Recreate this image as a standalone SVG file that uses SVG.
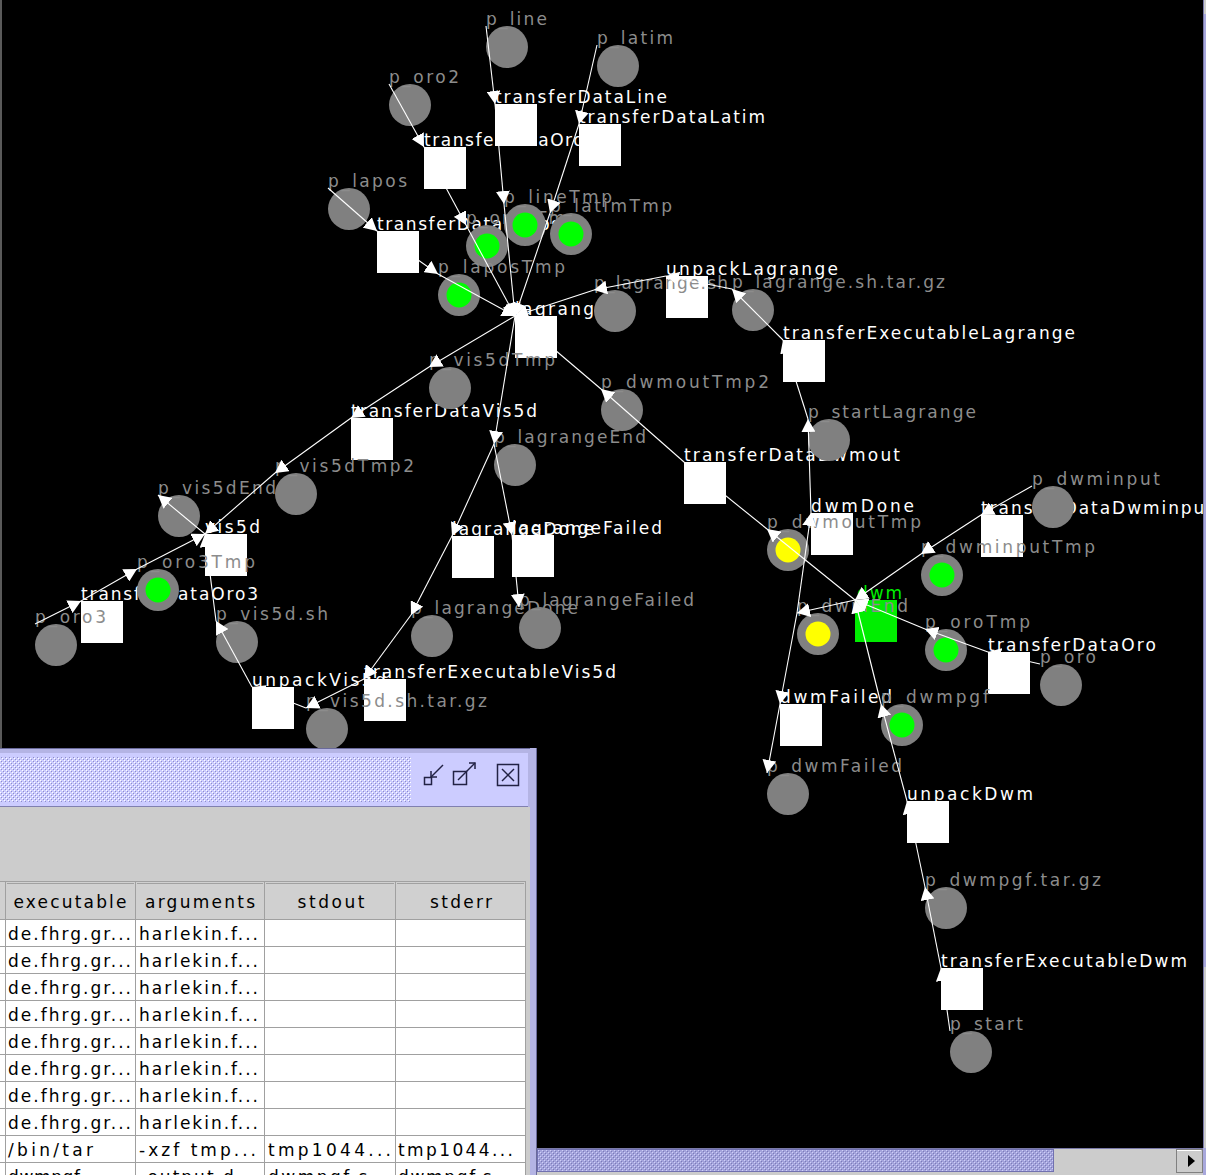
<svg xmlns="http://www.w3.org/2000/svg" width="1206" height="1175" viewBox="0 0 1206 1175">
<style>
  .pl circle.ring{fill:#808080}
  .tok-g{fill:#00ff00}
  .tok-y{fill:#ffff00}
  .pl text{font-family:"DejaVu Sans","Liberation Sans",sans-serif;font-size:17px;fill:#8c8c8c}
  .tr rect{fill:#ffffff}
  .tr text{font-family:"DejaVu Sans","Liberation Sans",sans-serif;font-size:17px;fill:#ffffff}
  .tr.active rect{fill:#00ee00}
  .tr.active text{fill:#00ee00}
  #connectors line{stroke:#ffffff;stroke-width:1.1;marker-end:url(#ah)}
  .cell{font-family:"DejaVu Sans","Liberation Sans",sans-serif;font-size:17px;fill:#000}
  .grid line{stroke:#a0a0a0;stroke-width:1}
  .icon{fill:none;stroke:#222244;stroke-width:1.5}
</style>
<defs>
  <marker id="ah" markerUnits="userSpaceOnUse" markerWidth="14" markerHeight="14" refX="13" refY="7" orient="auto">
    <path d="M0,0 L13,7 L0,14 z" fill="#ffffff"/>
  </marker>
  <pattern id="bumps" width="4" height="4" patternUnits="userSpaceOnUse">
    <rect width="4" height="4" fill="#ccccff"/>
    <rect x="0" y="0" width="1" height="1" fill="#ffffff"/>
    <rect x="1" y="1" width="1" height="1" fill="#8f8fc8"/>
    <rect x="2" y="2" width="1" height="1" fill="#ffffff"/>
    <rect x="3" y="3" width="1" height="1" fill="#8f8fc8"/>
  </pattern>
  <pattern id="thumbBumps" width="4" height="4" patternUnits="userSpaceOnUse">
    <rect width="4" height="4" fill="#a4a4dc"/>
    <rect x="0" y="0" width="1" height="1" fill="#d0d0f8"/>
    <rect x="1" y="1" width="1" height="1" fill="#7c7cb8"/>
    <rect x="2" y="2" width="1" height="1" fill="#d0d0f8"/>
    <rect x="3" y="3" width="1" height="1" fill="#7c7cb8"/>
  </pattern>
</defs>

<!-- drawing canvas -->
<rect x="0" y="0" width="1206" height="1175" fill="#000000"/>
<rect x="0" y="0" width="2" height="1148" fill="#5a5a5a"/>

<!-- transitions -->
<g id="transferDataOro2" class="tr"><text x="424" y="146" textLength="172">transferDataOro2</text><rect x="424" y="147" width="42" height="42"/></g>
<g id="transferDataLine" class="tr"><text x="495" y="103" textLength="172">transferDataLine</text><rect x="495" y="104" width="42" height="42"/></g>
<g id="transferDataLatim" class="tr"><text x="579" y="123" textLength="186">transferDataLatim</text><rect x="579" y="124" width="42" height="42"/></g>
<g id="transferDataLapos" class="tr"><text x="377" y="230" textLength="183">transferDataLapos</text><rect x="377" y="231" width="42" height="42"/></g>
<g id="lagrange" class="tr"><text x="515" y="315" textLength="92">lagrange</text><rect x="515" y="316" width="42" height="42"/></g>
<g id="unpackLagrange" class="tr"><text x="666" y="275" textLength="172">unpackLagrange</text><rect x="666" y="276" width="42" height="42"/></g>
<g id="transferExecutableLagrange" class="tr"><text x="783" y="339" textLength="292">transferExecutableLagrange</text><rect x="783" y="340" width="42" height="42"/></g>
<g id="transferDataVis5d" class="tr"><text x="351" y="417" textLength="186">transferDataVis5d</text><rect x="351" y="418" width="42" height="42"/></g>
<g id="transferDataDwmout" class="tr"><text x="684" y="461" textLength="216">transferDataDwmout</text><rect x="684" y="462" width="42" height="42"/></g>
<g id="vis5d" class="tr"><text x="205" y="533" textLength="55">vis5d</text><rect x="205" y="534" width="42" height="42"/></g>
<g id="transferDataOro3" class="tr"><text x="81" y="600" textLength="177">transferDataOro3</text><rect x="81" y="601" width="42" height="42"/></g>
<g id="unpackVis5d" class="tr"><text x="252" y="686" textLength="134">unpackVis5d</text><rect x="252" y="687" width="42" height="42"/></g>
<g id="transferExecutableVis5d" class="tr"><text x="364" y="678" textLength="252">transferExecutableVis5d</text><rect x="364" y="679" width="42" height="42"/></g>
<g id="lagrangeDone" class="tr"><text x="452" y="535" textLength="142">lagrangeDone</text><rect x="452" y="536" width="42" height="42"/></g>
<g id="lagrangeFailed" class="tr"><text x="512" y="534" textLength="150">lagrangeFailed</text><rect x="512" y="535" width="42" height="42"/></g>
<g id="transferDataDwminput" class="tr"><text x="981" y="514" textLength="232">transferDataDwminput</text><rect x="981" y="515" width="42" height="42"/></g>
<g id="dwmDone" class="tr"><text x="811" y="512" textLength="103">dwmDone</text><rect x="811" y="513" width="42" height="42"/></g>
<g id="dwm" class="tr active"><text x="857" y="599" textLength="45">dwm</text><rect x="855" y="600" width="42" height="42"/></g>
<g id="transferDataOro" class="tr"><text x="988" y="651" textLength="168">transferDataOro</text><rect x="988" y="652" width="42" height="42"/></g>
<g id="dwmFailed" class="tr"><text x="780" y="703" textLength="112">dwmFailed</text><rect x="780" y="704" width="42" height="42"/></g>
<g id="unpackDwm" class="tr"><text x="907" y="800" textLength="126">unpackDwm</text><rect x="907" y="801" width="42" height="42"/></g>
<g id="transferExecutableDwm" class="tr"><text x="941" y="967" textLength="246">transferExecutableDwm</text><rect x="941" y="968" width="42" height="42"/></g>

<!-- places -->
<g id="p_line" class="pl"><circle class="ring" cx="507" cy="47" r="21"/><text x="486" y="25" textLength="61">p_line</text></g>
<g id="p_latim" class="pl"><circle class="ring" cx="618" cy="66" r="21"/><text x="597" y="44" textLength="76">p_latim</text></g>
<g id="p_oro2" class="pl"><circle class="ring" cx="410" cy="105" r="21"/><text x="389" y="83" textLength="70">p_oro2</text></g>
<g id="p_lapos" class="pl"><circle class="ring" cx="349" cy="209" r="21"/><text x="328" y="187" textLength="79">p_lapos</text></g>
<g id="p_oro2Tmp" class="pl"><circle class="ring" cx="487" cy="246" r="21"/><circle class="tok-g" cx="487" cy="246" r="12.5"/><text x="466" y="224" textLength="112">p_oro2Tmp</text></g>
<g id="p_lineTmp" class="pl"><circle class="ring" cx="525" cy="225" r="21"/><circle class="tok-g" cx="525" cy="225" r="12.5"/><text x="504" y="203" textLength="108">p_lineTmp</text></g>
<g id="p_latimTmp" class="pl"><circle class="ring" cx="571" cy="234" r="21"/><circle class="tok-g" cx="571" cy="234" r="12.5"/><text x="550" y="212" textLength="122">p_latimTmp</text></g>
<g id="p_laposTmp" class="pl"><circle class="ring" cx="459" cy="295" r="21"/><circle class="tok-g" cx="459" cy="295" r="12.5"/><text x="438" y="273" textLength="127">p_laposTmp</text></g>
<g id="p_lagrange_sh" class="pl"><circle class="ring" cx="615" cy="311" r="21"/><text x="594" y="289" textLength="134">p_lagrange.sh</text></g>
<g id="p_lagrange_sh_tar_gz" class="pl"><circle class="ring" cx="753" cy="310" r="21"/><text x="732" y="288" textLength="213">p_lagrange.sh.tar.gz</text></g>
<g id="p_vis5dTmp" class="pl"><circle class="ring" cx="450" cy="388" r="21"/><text x="429" y="366" textLength="126">p_vis5dTmp</text></g>
<g id="p_dwmoutTmp2" class="pl"><circle class="ring" cx="622" cy="410" r="21"/><text x="601" y="388" textLength="168">p_dwmoutTmp2</text></g>
<g id="p_startLagrange" class="pl"><circle class="ring" cx="829" cy="440" r="21"/><text x="808" y="418" textLength="168">p_startLagrange</text></g>
<g id="p_lagrangeEnd" class="pl"><circle class="ring" cx="515" cy="465" r="21"/><text x="494" y="443" textLength="152">p_lagrangeEnd</text></g>
<g id="p_vis5dTmp2" class="pl"><circle class="ring" cx="296" cy="494" r="21"/><text x="275" y="472" textLength="139">p_vis5dTmp2</text></g>
<g id="p_vis5dEnd" class="pl"><circle class="ring" cx="179" cy="516" r="21"/><text x="158" y="494" textLength="118">p_vis5dEnd</text></g>
<g id="p_oro3Tmp" class="pl"><circle class="ring" cx="158" cy="590" r="21"/><circle class="tok-g" cx="158" cy="590" r="12.5"/><text x="137" y="568" textLength="118">p_oro3Tmp</text></g>
<g id="p_oro3" class="pl"><circle class="ring" cx="56" cy="645" r="21"/><text x="35" y="623" textLength="71">p_oro3</text></g>
<g id="p_vis5d_sh" class="pl"><circle class="ring" cx="237" cy="642" r="21"/><text x="216" y="620" textLength="112">p_vis5d.sh</text></g>
<g id="p_lagrangeDone" class="pl"><circle class="ring" cx="432" cy="636" r="21"/><text x="411" y="614" textLength="167">p_lagrangeDone</text></g>
<g id="p_lagrangeFailed" class="pl"><circle class="ring" cx="540" cy="628" r="21"/><text x="519" y="606" textLength="175">p_lagrangeFailed</text></g>
<g id="p_vis5d_sh_tar_gz" class="pl"><circle class="ring" cx="327" cy="729" r="21"/><text x="306" y="707" textLength="181">p_vis5d.sh.tar.gz</text></g>
<g id="p_dwminput" class="pl"><circle class="ring" cx="1053" cy="507" r="21"/><text x="1032" y="485" textLength="128">p_dwminput</text></g>
<g id="p_dwmoutTmp" class="pl"><circle class="ring" cx="788" cy="550" r="21"/><circle class="tok-y" cx="788" cy="550" r="12.5"/><text x="767" y="528" textLength="154">p_dwmoutTmp</text></g>
<g id="p_dwminputTmp" class="pl"><circle class="ring" cx="942" cy="575" r="21"/><circle class="tok-g" cx="942" cy="575" r="12.5"/><text x="921" y="553" textLength="174">p_dwminputTmp</text></g>
<g id="p_dwmEnd" class="pl"><circle class="ring" cx="818" cy="634" r="21"/><circle class="tok-y" cx="818" cy="634" r="12.5"/><text x="797" y="612" textLength="111">p_dwmEnd</text></g>
<g id="p_oroTmp" class="pl"><circle class="ring" cx="946" cy="650" r="21"/><circle class="tok-g" cx="946" cy="650" r="12.5"/><text x="925" y="628" textLength="105">p_oroTmp</text></g>
<g id="p_oro" class="pl"><circle class="ring" cx="1061" cy="685" r="21"/><text x="1040" y="663" textLength="56">p_oro</text></g>
<g id="p_dwmpgf" class="pl"><circle class="ring" cx="902" cy="725" r="21"/><circle class="tok-g" cx="902" cy="725" r="12.5"/><text x="881" y="703" textLength="108">p_dwmpgf</text></g>
<g id="p_dwmFailed" class="pl"><circle class="ring" cx="788" cy="794" r="21"/><text x="767" y="772" textLength="135">p_dwmFailed</text></g>
<g id="p_dwmpgf_tar_gz" class="pl"><circle class="ring" cx="946" cy="908" r="21"/><text x="925" y="886" textLength="176">p_dwmpgf.tar.gz</text></g>
<g id="p_start" class="pl"><circle class="ring" cx="971" cy="1052" r="21"/><text x="950" y="1030" textLength="73">p_start</text></g>

<!-- arcs between places and transitions -->
<g id="connectors">
  <line x1="486" y1="26" x2="495" y2="104"/>
  <line x1="495" y1="104" x2="504" y2="204"/>
  <line x1="597" y1="45" x2="579" y2="124"/>
  <line x1="579" y1="124" x2="550" y2="213"/>
  <line x1="389" y1="84" x2="424" y2="147"/>
  <line x1="424" y1="147" x2="466" y2="225"/>
  <line x1="328" y1="188" x2="377" y2="231"/>
  <line x1="377" y1="231" x2="438" y2="274"/>
  <line x1="504" y1="204" x2="515" y2="316"/>
  <line x1="550" y1="213" x2="515" y2="316"/>
  <line x1="466" y1="225" x2="515" y2="316"/>
  <line x1="438" y1="274" x2="515" y2="316"/>
  <line x1="594" y1="290" x2="515" y2="316"/>
  <line x1="601" y1="389" x2="515" y2="316"/>
  <line x1="515" y1="316" x2="429" y2="367"/>
  <line x1="515" y1="316" x2="494" y2="444"/>
  <line x1="808" y1="419" x2="783" y2="340"/>
  <line x1="783" y1="340" x2="732" y2="289"/>
  <line x1="732" y1="289" x2="666" y2="276"/>
  <line x1="666" y1="276" x2="594" y2="290"/>
  <line x1="429" y1="367" x2="351" y2="418"/>
  <line x1="351" y1="418" x2="275" y2="473"/>
  <line x1="275" y1="473" x2="205" y2="534"/>
  <line x1="137" y1="569" x2="205" y2="534"/>
  <line x1="216" y1="621" x2="205" y2="534"/>
  <line x1="205" y1="534" x2="158" y2="495"/>
  <line x1="35" y1="624" x2="81" y2="601"/>
  <line x1="81" y1="601" x2="137" y2="569"/>
  <line x1="306" y1="708" x2="252" y2="687"/>
  <line x1="252" y1="687" x2="216" y2="621"/>
  <line x1="364" y1="679" x2="306" y2="708"/>
  <line x1="411" y1="615" x2="364" y2="679"/>
  <line x1="494" y1="444" x2="452" y2="536"/>
  <line x1="494" y1="444" x2="512" y2="535"/>
  <line x1="452" y1="536" x2="411" y2="615"/>
  <line x1="512" y1="535" x2="519" y2="607"/>
  <line x1="855" y1="600" x2="767" y2="529"/>
  <line x1="767" y1="529" x2="684" y2="462"/>
  <line x1="684" y1="462" x2="601" y2="389"/>
  <line x1="855" y1="600" x2="797" y2="613"/>
  <line x1="797" y1="613" x2="811" y2="513"/>
  <line x1="797" y1="613" x2="780" y2="704"/>
  <line x1="811" y1="513" x2="808" y2="419"/>
  <line x1="780" y1="704" x2="767" y2="773"/>
  <line x1="1032" y1="486" x2="981" y2="515"/>
  <line x1="981" y1="515" x2="921" y2="554"/>
  <line x1="921" y1="554" x2="855" y2="600"/>
  <line x1="1040" y1="664" x2="988" y2="652"/>
  <line x1="988" y1="652" x2="925" y2="629"/>
  <line x1="925" y1="629" x2="855" y2="600"/>
  <line x1="881" y1="704" x2="855" y2="600"/>
  <line x1="907" y1="801" x2="881" y2="704"/>
  <line x1="925" y1="887" x2="907" y2="801"/>
  <line x1="941" y1="968" x2="925" y2="887"/>
  <line x1="950" y1="1031" x2="941" y2="968"/>
</g>

<!-- vertical scrollbar edge -->
<g id="vscroll">
  <rect x="1203" y="0" width="3" height="1148" fill="#cccccc"/>
  <rect x="1203" y="14" width="3" height="953" fill="#a8a8dc"/>
  <line x1="1203.5" y1="0" x2="1203.5" y2="1148" stroke="#7a7aa8"/>
</g>

<!-- horizontal scrollbar -->
<g id="hscroll">
  <rect x="530" y="1148" width="676" height="27" fill="#cccccc"/>
  <line x1="530" y1="1148.5" x2="1206" y2="1148.5" stroke="#7a7aa8"/>
  <rect x="537" y="1150" width="517" height="22" fill="url(#thumbBumps)"/>
  <rect x="537.5" y="1149.5" width="516" height="22" fill="none" stroke="#7070b0"/>
  <rect x="1176.5" y="1149.5" width="26" height="23" fill="#cccccc" stroke="#808080"/>
  <line x1="1177" y1="1150.5" x2="1201" y2="1150.5" stroke="#ffffff"/>
  <path d="M1188,1155 L1195,1161 L1188,1167 z" fill="#000000"/>
  <rect x="1203" y="1148" width="3" height="27" fill="#a8a8dc"/>
</g>

<!-- internal frame with the job table -->
<g id="jobFrame">
  <rect x="-4" y="748" width="541" height="432" fill="#b4b4e4"/>
  <rect x="-4.5" y="748.5" width="541" height="432" fill="none" stroke="#6a6a9a"/>
  <rect x="0" y="753" width="528" height="53" fill="#ccccff"/>
  <rect x="0" y="757" width="411" height="45" fill="url(#bumps)"/>
  <line x1="0" y1="806.5" x2="528" y2="806.5" stroke="#8080b0"/>
  <!-- title bar buttons -->
  <g id="iconifyButton">
    <rect x="424.5" y="777.5" width="7" height="7" class="icon"/>
    <line x1="431" y1="777" x2="443" y2="765" class="icon"/>
    <polyline points="431,771 431,777 437,777" class="icon"/>
  </g>
  <g id="maximizeButton">
    <rect x="453.5" y="771.5" width="13" height="13" class="icon"/>
    <line x1="458" y1="780" x2="475" y2="763" class="icon"/>
    <polyline points="469,763 475,763 475,769" class="icon"/>
  </g>
  <g id="closeButton">
    <rect x="497.5" y="764.5" width="21" height="21" fill="#ccccff" stroke="#222244" stroke-width="1.5"/>
    <line x1="502" y1="769" x2="514" y2="781" class="icon" stroke-width="2"/>
    <line x1="514" y1="769" x2="502" y2="781" class="icon" stroke-width="2"/>
  </g>
  <rect x="0" y="807" width="528" height="370" fill="#cccccc"/>
  <!-- table header -->
  <rect x="0" y="881" width="525" height="39" fill="#d0d0d0"/>
  <g class="grid">
    <line x1="0" y1="881.5" x2="525" y2="881.5" stroke="#808080"/>
    <line x1="0" y1="919.5" x2="525" y2="919.5" stroke="#808080"/>
  </g>
  <rect x="0" y="920" width="525" height="260" fill="#ffffff"/>
  <g class="grid">
    <line x1="0" y1="946.5" x2="525" y2="946.5"/>
    <line x1="0" y1="973.5" x2="525" y2="973.5"/>
    <line x1="0" y1="1000.5" x2="525" y2="1000.5"/>
    <line x1="0" y1="1027.5" x2="525" y2="1027.5"/>
    <line x1="0" y1="1054.5" x2="525" y2="1054.5"/>
    <line x1="0" y1="1081.5" x2="525" y2="1081.5"/>
    <line x1="0" y1="1108.5" x2="525" y2="1108.5"/>
    <line x1="0" y1="1135.5" x2="525" y2="1135.5"/>
    <line x1="0" y1="1162.5" x2="525" y2="1162.5"/>
    <line x1="5.5" y1="881" x2="5.5" y2="1175"/>
    <line x1="135.5" y1="881" x2="135.5" y2="1175"/>
    <line x1="264.5" y1="881" x2="264.5" y2="1175"/>
    <line x1="395.5" y1="881" x2="395.5" y2="1175"/>
    <line x1="525.5" y1="881" x2="525.5" y2="1175"/>
  </g>
  <g class="grid">
    <line x1="7" y1="883.5" x2="134" y2="883.5" stroke="#f4f4f4"/>
    <line x1="137" y1="883.5" x2="263" y2="883.5" stroke="#f4f4f4"/>
    <line x1="266" y1="883.5" x2="394" y2="883.5" stroke="#f4f4f4"/>
    <line x1="397" y1="883.5" x2="524" y2="883.5" stroke="#f4f4f4"/>
  </g>
  <text class="cell" x="70" y="908" text-anchor="middle" textLength="113">executable</text>
  <text class="cell" x="200" y="908" text-anchor="middle" textLength="110">arguments</text>
  <text class="cell" x="331" y="908" text-anchor="middle" textLength="67">stdout</text>
  <text class="cell" x="461" y="908" text-anchor="middle" textLength="62">stderr</text>

  <g id="rows">
    <text class="cell" x="8" y="940" textLength="123">de.fhrg.gr...</text><text class="cell" x="139" y="940" textLength="119">harlekin.f...</text>
    <text class="cell" x="8" y="967" textLength="123">de.fhrg.gr...</text><text class="cell" x="139" y="967" textLength="119">harlekin.f...</text>
    <text class="cell" x="8" y="994" textLength="123">de.fhrg.gr...</text><text class="cell" x="139" y="994" textLength="119">harlekin.f...</text>
    <text class="cell" x="8" y="1021" textLength="123">de.fhrg.gr...</text><text class="cell" x="139" y="1021" textLength="119">harlekin.f...</text>
    <text class="cell" x="8" y="1048" textLength="123">de.fhrg.gr...</text><text class="cell" x="139" y="1048" textLength="119">harlekin.f...</text>
    <text class="cell" x="8" y="1075" textLength="123">de.fhrg.gr...</text><text class="cell" x="139" y="1075" textLength="119">harlekin.f...</text>
    <text class="cell" x="8" y="1102" textLength="123">de.fhrg.gr...</text><text class="cell" x="139" y="1102" textLength="119">harlekin.f...</text>
    <text class="cell" x="8" y="1129" textLength="123">de.fhrg.gr...</text><text class="cell" x="139" y="1129" textLength="119">harlekin.f...</text>
    <text class="cell" x="8" y="1156" textLength="85">/bin/tar</text><text class="cell" x="139" y="1156" textLength="117">-xzf tmp...</text><text class="cell" x="268" y="1156" textLength="123">tmp1044...</text><text class="cell" x="398" y="1156" textLength="115">tmp1044...</text>
    <text class="cell" x="8" y="1183" textLength="72">dwmpgf</text><text class="cell" x="139" y="1183" textLength="117">-output d...</text><text class="cell" x="268" y="1183" textLength="123">dwmpgf.s...</text><text class="cell" x="398" y="1183" textLength="115">dwmpgf.s...</text>
  </g>
  <rect x="526" y="807" width="4" height="370" fill="#cccccc"/>
  <rect x="530" y="748" width="7" height="430" fill="#b4b4e4"/>
  <line x1="536.5" y1="748" x2="536.5" y2="1175" stroke="#6a6a9a"/>
</g>
</svg>
